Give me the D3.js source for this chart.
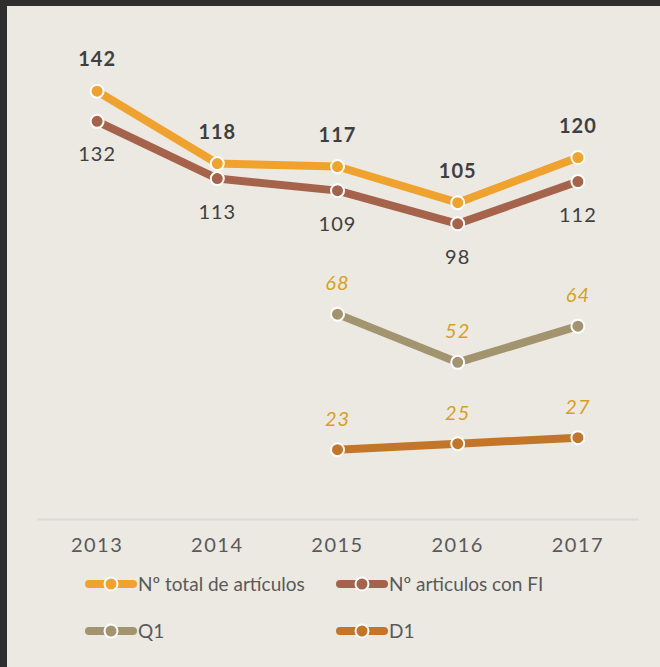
<!DOCTYPE html>
<html>
<head>
<meta charset="utf-8">
<script src="https://cdn.jsdelivr.net/npm/d3@7"></script>
<style>
  html, body { margin: 0; padding: 0; background: #2e2e2e; }
  svg { display: block; }
  text { font-family: Lato, "Open Sans", sans-serif; }
</style>
</head>
<body>
<svg id="chart"></svg>
<script>
const years = ["2013", "2014", "2015", "2016", "2017"]
const total = [142, 118, 117, 105, 120]
const conFI = [132, 113, 109, 98, 112]
const q1 = [null, null, 68, 52, 64]
const d1 = [null, null, 23, 25, 27]
const seriesNames = ["Nº total de artículos", "Nº articulos con FI", "Q1", "D1"]

const W = 660, H = 667

const series = [
  {name: seriesNames[0], values: total, color: "#F0A22E", label: {dy: -32, color: "#3f3f3f", weight: "bold", style: "normal"}},
  {name: seriesNames[1], values: conFI, color: "#A5634B", label: {dy: 33, color: "#404040", weight: "normal", style: "normal"}},
  {name: seriesNames[2], values: q1, color: "#A39470", label: {dy: -31, color: "#D6A11B", weight: "normal", style: "italic"}},
  {name: seriesNames[3], values: d1, color: "#C3752A", label: {dy: -31, color: "#D6A11B", weight: "normal", style: "italic"}}
]

const svg = d3.select("#chart").attr("width", W).attr("height", H)

// panel
svg.append("rect")
  .attr("x", 7).attr("y", 6)
  .attr("width", W - 7).attr("height", H - 6)
  .attr("fill", "#ECE9E3")

const x = d3.scaleBand()
  .domain(years)
  .range([37, 638])

const y = d3.scaleLinear()
  .domain([0, 160])
  .range([519, 37])

// axis
const xAxis = svg.append("g")
  .attr("transform", "translate(0, 519)")
  .call(d3.axisBottom(x).tickSize(0).tickPadding(19))
xAxis.select(".domain").attr("stroke", "#D9D9D9").attr("stroke-width", 2)
xAxis.selectAll("text")
  .attr("font-size", 20)
  .attr("fill", "#595959")
  .attr("letter-spacing", 1.5)
  .style("font-family", "Lato, 'Open Sans', sans-serif")

const cx = d => x(d.year) + x.bandwidth() / 2

const line = d3.line()
  .defined(d => d.v != null)
  .x(cx)
  .y(d => y(d.v))

series.forEach(s => {
  const pts = s.values.map((v, i) => ({year: years[i], v}))
  const g = svg.append("g")

  g.append("path")
    .datum(pts)
    .attr("fill", "none")
    .attr("stroke", s.color)
    .attr("stroke-width", 8)
    .attr("stroke-linejoin", "round")
    .attr("stroke-linecap", "round")
    .attr("d", line)

  const valid = pts.filter(d => d.v != null)

  g.selectAll("circle")
    .data(valid)
    .join("circle")
    .attr("cx", cx)
    .attr("cy", d => y(d.v))
    .attr("r", 6.5)
    .attr("fill", s.color)
    .attr("stroke", "#fff")
    .attr("stroke-width", 2)

  g.selectAll("text")
    .data(valid)
    .join("text")
    .attr("x", cx)
    .attr("y", d => y(d.v) + s.label.dy)
    .attr("dy", "0.35em")
    .attr("text-anchor", "middle")
    .attr("font-size", 20)
    .attr("letter-spacing", 1)
    .attr("font-weight", s.label.weight)
    .attr("font-style", s.label.style)
    .attr("fill", s.label.color)
    .text(d => d.v)
})

// legend
const legendPos = [[85, 584], [336, 584], [85, 631], [336, 631]]
series.forEach((s, i) => {
  const [lx, ly] = legendPos[i]
  const lg = svg.append("g").attr("transform", `translate(${lx}, ${ly})`)
  lg.append("line")
    .attr("x1", 4).attr("x2", 48)
    .attr("stroke", s.color)
    .attr("stroke-width", 8)
    .attr("stroke-linecap", "round")
  lg.append("circle")
    .attr("cx", 26).attr("r", 6.5)
    .attr("fill", s.color)
    .attr("stroke", "#fff")
    .attr("stroke-width", 2)
  lg.append("text")
    .attr("x", 53)
    .attr("dy", "0.35em")
    .attr("font-size", 19)
    .attr("fill", "#595959")
    .text(s.name)
})
</script>
</body>
</html>
